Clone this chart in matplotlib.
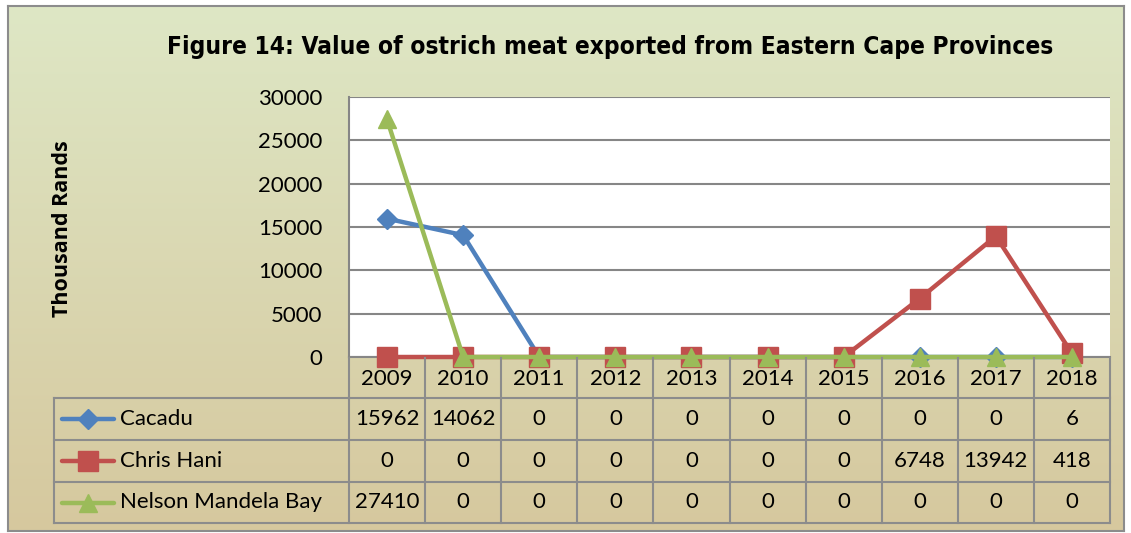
import numpy as np
import matplotlib
matplotlib.use('Agg')
import matplotlib.pyplot as plt
from matplotlib.lines import Line2D

# data
years = ['2009', '2010', '2011', '2012', '2013', '2014', '2015', '2016', '2017', '2018']
cacadu = [15962, 14062, 0, 0, 0, 0, 0, 0, 0, 6]
chris_hani = [0, 0, 0, 0, 0, 0, 0, 6748, 13942, 418]
nelson_mandela = [27410, 0, 0, 0, 0, 0, 0, 0, 0, 0]
series_names = ['Cacadu', 'Chris Hani', 'Nelson Mandela Bay']
yticks = [0, 5000, 10000, 15000, 20000, 25000, 30000]

colors = ['#4F81BD', '#C0504D', '#9BBB59']
markers = ['D', 's', '^']
msizes = [10, 14, 13]

W, H = 1131, 533
fig = plt.figure(figsize=(W / 100, H / 100), dpi=100)
fig.patch.set_facecolor('white')
plt.rcParams['font.family'] = ['Lato', 'DejaVu Sans']


def fx(x):
    return x / W


def fy(y):
    return 1 - y / H


# background gradient inside chart frame
bg = fig.add_axes([fx(8), fy(531), fx(1124) - fx(8), fy(6) - fy(531)], zorder=-10)
top = np.array([222, 231, 197]) / 255
bot = np.array([214, 200, 158]) / 255
t = np.linspace(0, 1, 256)[:, None]
grad = top * (1 - t) + bot * t
bg.imshow(grad[:, None, :], aspect='auto', extent=[0, 1, 0, 1])
bg.set_xticks([])
bg.set_yticks([])
for s in bg.spines.values():
    s.set_color('#8c8c8c')
    s.set_linewidth(1.5)

# plot area
left, right, ptop, pbot = 349, 1110, 97, 357
ax = fig.add_axes([fx(left), fy(pbot), fx(right) - fx(left), fy(ptop) - fy(pbot)])
ax.set_facecolor('white')
x = np.arange(len(years))
for vals, c, m, ms in zip([cacadu, chris_hani, nelson_mandela], colors, markers, msizes):
    ax.plot(x, vals, color=c, lw=3.2, marker=m, markersize=ms, clip_on=False, zorder=5)
ax.set_xlim(-0.5, len(years) - 0.5)
ax.set_ylim(0, 30000)
ax.set_yticks(yticks)
ax.set_yticklabels([str(v) for v in yticks], fontsize=16)
ax.tick_params(axis='y', length=0, pad=19)
ax.set_xticks([])
ax.grid(axis='y', color='#868686', lw=1.5)
ax.set_axisbelow(True)
for k in ['top', 'right']:
    ax.spines[k].set_visible(False)
for k in ['left', 'bottom']:
    ax.spines[k].set_color('#868686')
    ax.spines[k].set_linewidth(1.5)

# title and y label
ttl = fig.text(fx(610), fy(47), 'Figure 14: Value of ostrich meat exported from Eastern Cape Provinces',
               ha='center', va='center', fontsize=20, fontweight='bold',
               family=['DejaVu Sans'], fontstretch='condensed')
# squeeze to the reference width if the face is too wide
fig.canvas.draw()
bb = ttl.get_window_extent()
if bb.width > 886:
    ttl.set_fontsize(20 * 886 / bb.width)
fig.text(fx(62), fy(229), 'Thousand Rands', rotation=90, ha='center', va='center',
         fontsize=15.5, fontweight='bold', family=['Open Sans', 'DejaVu Sans'])

# data table
cw = (right - left) / len(years)
gcol = '#8c8c8c'
row_y = [358, 398, 440, 482, 523]


def hline(x0, x1, y):
    fig.add_artist(Line2D([fx(x0), fx(x1)], [fy(y), fy(y)], color=gcol, lw=1.5))


def vline(x, y0, y1):
    fig.add_artist(Line2D([fx(x), fx(x)], [fy(y0), fy(y1)], color=gcol, lw=1.5))


hline(left, right, row_y[1])
for y in row_y[2:]:
    hline(54, right, y)
hline(54, left, row_y[1])
for i in range(len(years) + 1):
    vline(left + i * cw, row_y[0], row_y[-1])
vline(54, row_y[1], row_y[-1])

for i, yr in enumerate(years):
    fig.text(fx(left + (i + 0.5) * cw), fy((row_y[0] + row_y[1]) / 2 + 1), yr,
             ha='center', va='center', fontsize=16)

for r, (name, vals) in enumerate(zip(series_names, [cacadu, chris_hani, nelson_mandela])):
    yc = (row_y[r + 1] + row_y[r + 2]) / 2
    fig.add_artist(Line2D([fx(62), fx(114)], [fy(yc), fy(yc)], color=colors[r], lw=3.2,
                          solid_capstyle='round'))
    fig.add_artist(Line2D([fx(88)], [fy(yc)], color=colors[r], marker=markers[r],
                          markersize=msizes[r], lw=0))
    fig.text(fx(120), fy(yc), name, ha='left', va='center', fontsize=16)
    for i, v in enumerate(vals):
        fig.text(fx(left + (i + 0.5) * cw), fy(yc), str(v), ha='center', va='center', fontsize=16)

fig.savefig('out.png', dpi=100)
